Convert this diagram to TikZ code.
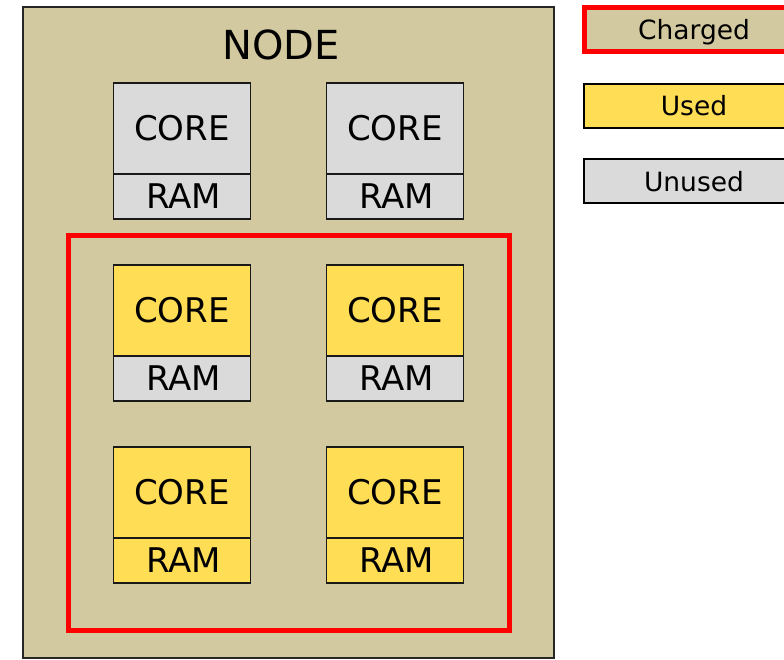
\documentclass[tikz,border=0pt]{standalone}
\usepackage{fontspec}
\setmainfont{DejaVu Sans}
\usetikzlibrary{positioning}
\definecolor{nodetan}{RGB}{211,201,160}
\definecolor{usedyellow}{RGB}{255,221,85}
\definecolor{unusedgrey}{RGB}{218,218,218}
\tikzset{
  nodeframe/.style = {draw=black!85, line width=1.8pt, fill=nodetan,
                      inner sep=0pt, outer sep=0pt},
  core/.style      = {draw=black!90, line width=1.8pt, inner sep=0pt, outer sep=0pt,
                      minimum width=137pt, minimum height=91pt,
                      font=\fontsize{34}{38}\selectfont},
  ram/.style       = {core, minimum height=45pt},
  used/.style      = {fill=usedyellow},
  unused/.style    = {fill=unusedgrey},
  charged/.style   = {draw=red, line width=5pt, inner sep=0pt, outer sep=0pt},
  legend/.style    = {line width=2pt, inner sep=0pt, text depth=0pt,
                      minimum width=220pt, minimum height=44pt,
                      font=\fontsize{26.5}{30}\selectfont}
}

\begin{document}
\begin{tikzpicture}[x=1pt, y=-1pt]
  \path[use as bounding box, clip] (0,0) rectangle (784,659);

  % the compute node
  \node[nodeframe, minimum width=531pt, minimum height=651pt] (frame) at (288.5,332.5) {};
  \node[font=\fontsize{40}{44}\selectfont] (title) at (281,45) {NODE};

  % charged part of the node
  \node[charged, minimum width=441pt, minimum height=395pt] (charge) at (288.5,432.5) {};

  % cores with their memory
  \foreach \row/\cstate/\rstate in {1/unused/unused, 2/used/unused, 3/used/used}
    \foreach \col in {1,2}
    {
      \node[core, \cstate] (core-\row-\col) at (182+213*\col-213, 128.5+182*\row-182) {CORE};
      \node[ram, \rstate, below=0pt of core-\row-\col] (ram-\row-\col) {\hspace*{3pt}RAM};
    }

  % legend
  \node[legend, charged, fill=nodetan] (leg-charged) at (694,29) {Charged};
  \node[legend, draw=black, used] (leg-used) at (694,105.5) {Used};
  \node[legend, draw=black, unused] (leg-unused) at (694,181) {Unused};
\end{tikzpicture}
\end{document}
